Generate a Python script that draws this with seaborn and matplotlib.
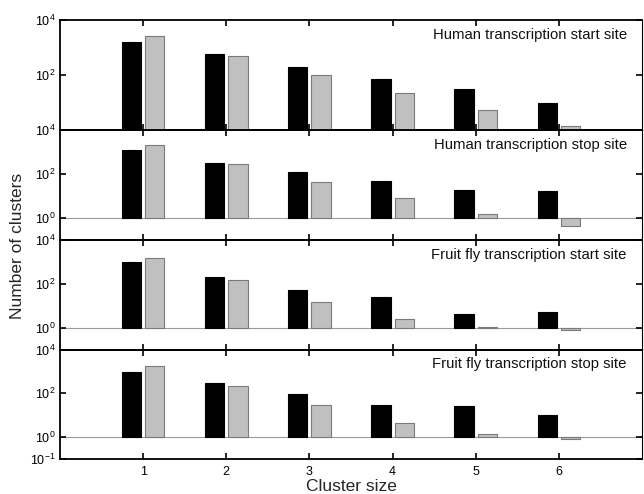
import matplotlib
matplotlib.use("Agg")
import matplotlib.pyplot as plt
import seaborn as sns
import pandas as pd
import numpy as np
from matplotlib.ticker import LogFormatterSciNotation, NullLocator, FixedLocator

sns.set_theme(style="white")
plt.rcParams['font.family'] = ['Liberation Sans', 'DejaVu Sans']
plt.rcParams['mathtext.fontset'] = 'custom'
plt.rcParams['mathtext.rm'] = 'Liberation Sans'
plt.rcParams['mathtext.it'] = 'Liberation Sans'

cluster_sizes = [1, 2, 3, 4, 5, 6]
panel_titles = [
    "Human transcription start site",
    "Human transcription stop site",
    "Fruit fly transcription start site",
    "Fruit fly transcription stop site",
]
series_names = ["Observed", "Expected"]

human_start_black = [1600, 570, 190, 72, 32, 9.3]
human_start_gray = [2600, 500, 102, 23, 5.2, 1.4]
human_stop_black = [1260, 316, 123, 48, 18.7, 17.5]
human_stop_gray = [2080, 295, 43, 8.4, 1.47, 0.42]
fly_start_black = [955, 215, 50, 24, 4.0, 5.0]
fly_start_gray = [1450, 152, 15, 2.4, 1.1, 0.75]
fly_stop_black = [970, 284, 97, 30, 26, 10.7]
fly_stop_gray = [1750, 218, 28, 4.6, 1.37, 0.81]

panels = [
    (human_start_black, human_start_gray),
    (human_stop_black, human_stop_gray),
    (fly_start_black, fly_start_gray),
    (fly_stop_black, fly_stop_gray),
]

fig = plt.figure(figsize=(6.44, 4.94), dpi=100)
W, H = 644, 494
left_px, right_px = 60, 642
tops = [20, 130, 240, 349.5]
heights = [110, 110, 109.5, 109.5]

baseline = 1.0
for i, ((blk, gry), title) in enumerate(zip(panels, panel_titles)):
    top = tops[i]
    h = heights[i]
    ax = fig.add_axes([left_px / W, 1 - (top + h) / H, (right_px - left_px) / W, h / H])
    df = pd.DataFrame({
        "size": cluster_sizes * 2,
        "series": [series_names[0]] * 6 + [series_names[1]] * 6,
        "value": list(blk) + list(gry),
    })
    df["height"] = df["value"] - baseline
    sns.barplot(data=df, x="size", y="height", hue="series", hue_order=series_names,
                palette=["#000000", "#c0c0c0"], native_scale=True, width=0.56, gap=0.17,
                saturation=1, errorbar=None, legend=False, bottom=baseline, ax=ax)
    edgecols = ["#000000", "#7a7a7a"]
    for cont, ec in zip(ax.containers, edgecols):
        for p in cont:
            p.set_edgecolor(ec)
            p.set_linewidth(0.8)
    ax.set_yscale("log")
    if i == 0:
        ax.set_ylim(1, 1e4)
        yt = [1e2, 1e4]
    else:
        ax.set_ylim(0.1, 1e4)
        ax.axhline(1, color="#9a9a9a", lw=0.8, zorder=0)
        yt = [1e0, 1e2, 1e4] if i < 3 else [1e-1, 1e0, 1e2, 1e4]
    ax.yaxis.set_major_locator(FixedLocator(yt))
    ax.yaxis.set_minor_locator(NullLocator())
    ax.yaxis.set_major_formatter(LogFormatterSciNotation())
    ax.set_xlim(0, 7)
    ax.set_xticks(cluster_sizes)
    if i < 3:
        ax.set_xticklabels([])
    else:
        ax.set_xticklabels([str(s) for s in cluster_sizes])
    ax.set_xlabel("")
    ax.set_ylabel("")
    ax.tick_params(axis="both", which="major", direction="in", length=4, width=1.2,
                   top=True, right=True, bottom=True, left=True, labelsize=9,
                   colors="#000000", pad=3)
    ax.tick_params(axis="x", pad=5)
    for s in ax.spines.values():
        s.set_color("#000000")
        s.set_linewidth(1.3)
    ax.spines["right"].set_linewidth(0.8)
    ax.text(0.974, 0.865, title, transform=ax.transAxes, ha="right", va="center",
            fontsize=10.7, color="#111111")
    ax.patch.set_alpha(0)
    ax.set_zorder(10 - i)
    if i == 3:
        ax.set_xlabel("Cluster size", fontsize=12.5, labelpad=1)

fig.text(18 / W, 1 - 246 / H, "Number of clusters", rotation=90, ha="center", va="center",
         fontsize=12.5)

fig.savefig("out.png", dpi=100, facecolor="white")
